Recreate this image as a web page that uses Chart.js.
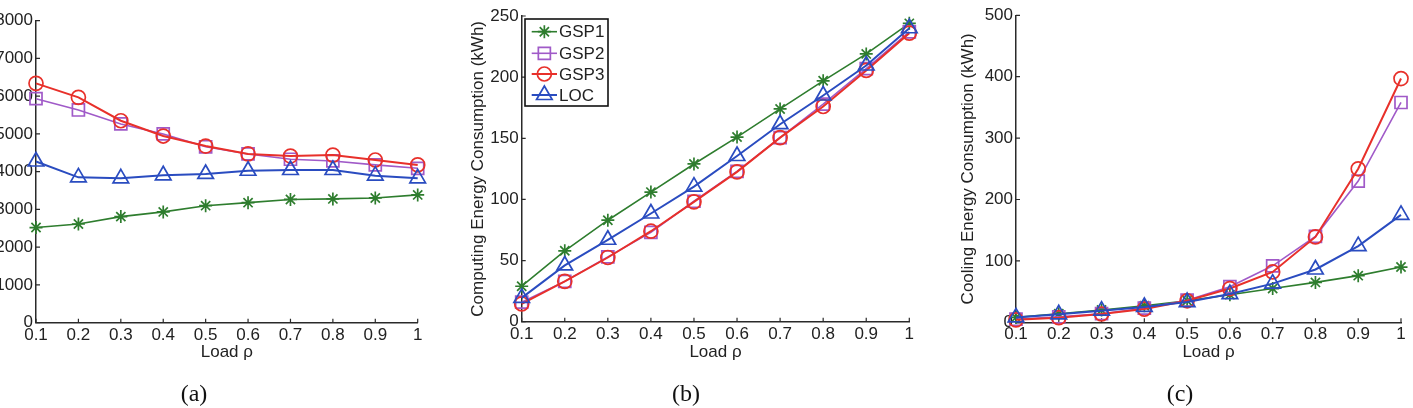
<!DOCTYPE html>
<html>
<head>
<meta charset="utf-8">
<script src="https://cdn.jsdelivr.net/npm/chart.js@4.4.1/dist/chart.umd.min.js"></script>
<style>
  html, body { margin: 0; padding: 0; background: #fff; }
  body { width: 1413px; height: 408px; position: relative; overflow: hidden; }
  canvas { position: absolute; top: 0; }
  .cap { position: absolute; font-family: "Liberation Serif", "DejaVu Serif", serif; font-size: 24px; color: #111;
         transform: translate(-50%, -50%); white-space: nowrap; }
</style>
</head>
<body>
<canvas id="ca" width="470" height="408" style="left:0px;width:470px;height:408px"></canvas>
<canvas id="cb" width="470" height="408" style="left:470px;width:470px;height:408px"></canvas>
<canvas id="cc" width="473" height="408" style="left:940px;width:473px;height:408px"></canvas>
<div class="cap" style="left:194px;top:393px">(a)</div>
<div class="cap" style="left:686px;top:393px">(b)</div>
<div class="cap" style="left:1180px;top:393px">(c)</div>
<script>
// ---- data ----
const loads = ['0.1', '0.2', '0.3', '0.4', '0.5', '0.6', '0.7', '0.8', '0.9', '1'];
const seriesNames = ['GSP1', 'GSP2', 'GSP3', 'LOC'];

// (a)
const aGSP1 = [2520, 2615, 2810, 2935, 3100, 3180, 3265, 3280, 3305, 3385];
const aGSP2 = [5935, 5635, 5265, 5000, 4660, 4470, 4330, 4285, 4180, 4090];
const aGSP3 = [6340, 5970, 5350, 4945, 4680, 4470, 4415, 4440, 4310, 4180];
const aLOC  = [4270, 3850, 3825, 3905, 3940, 4025, 4045, 4045, 3895, 3825];

// (b) computing energy (kWh)
const bGSP1 = [29, 58, 83, 106, 129, 151, 174, 197, 219, 244];
const bGSP2 = [16, 33, 53, 73, 98.5, 123, 150.5, 178, 207, 237];
const bGSP3 = [14.5, 33, 52.5, 74, 98, 122.5, 150.5, 176, 205.5, 236];
const bLOC  = [19.5, 46, 67, 88.5, 110.5, 135.5, 161.5, 185, 209.5, 240];

// (c) cooling energy (kWh)
const cGSP1 = [8, 14, 20, 27, 35, 45, 55, 65, 76, 90];
const cGSP2 = [5, 9, 14, 23, 36, 58, 92, 140, 230, 358];
const cGSP3 = [4, 7.5, 13.5, 21.5, 35, 55, 82, 139, 250, 397];
const cLOC  = [8, 13, 19, 25, 33, 46, 63, 86, 124, 175];

// ---- styles ----
const FONT = '"Liberation Sans", Arial, Helvetica, sans-serif';
const FS = 17;
const TXT = '#222';
const AXIS = '#2a2a2a';
const styles = [
  { color: '#2e7d2e', pointStyle: 'star',     radius: 6.5, lw: 1.6, order: 4 },
  { color: '#a05ac8', pointStyle: 'rect',     radius: 8.5, lw: 1.6, order: 3 },
  { color: '#e8302a', pointStyle: 'circle',   radius: 7,   lw: 2,   order: 2 },
  { color: '#2a4cc0', pointStyle: 'triangle', radius: 9,   lw: 2,   order: 1 }
];

function makeDatasets(arrs) {
  return arrs.map((d, i) => ({
    label: seriesNames[i],
    data: d,
    borderColor: styles[i].color,
    backgroundColor: styles[i].color,
    borderWidth: styles[i].lw,
    pointStyle: styles[i].pointStyle,
    pointRadius: styles[i].radius,
    pointHoverRadius: styles[i].radius,
    pointBorderColor: styles[i].color,
    pointBackgroundColor: 'rgba(0,0,0,0)',
    pointBorderWidth: 1.7,
    tension: 0,
    clip: false,
    order: styles[i].order
  }));
}

const inwardTicks = {
  id: 'inwardTicks',
  beforeDatasetsDraw(chart) {
    const ctx = chart.ctx;
    const xs = chart.scales.x, ys = chart.scales.y;
    const a = chart.chartArea;
    ctx.save();
    ctx.strokeStyle = AXIS;
    ctx.lineWidth = 1.2;
    ctx.beginPath();
    xs.ticks.forEach((t, i) => {
      const px = xs.getPixelForTick(i);
      ctx.moveTo(px, a.bottom);
      ctx.lineTo(px, a.bottom - 4);
    });
    ys.ticks.forEach((t, i) => {
      const py = ys.getPixelForTick(i);
      ctx.moveTo(a.left, py);
      ctx.lineTo(a.left + 4, py);
    });
    ctx.stroke();
    ctx.restore();
  }
};

const boxLegend = {
  id: 'boxLegend',
  afterDatasetsDraw(chart, args, opts) {
    if (!opts || !opts.show) return;
    const ctx = chart.ctx;
    const { x, y, w, h, rowY, lineX0, lineX1, textX } = opts;
    ctx.save();
    ctx.fillStyle = '#fff';
    ctx.fillRect(x, y, w, h);
    ctx.strokeStyle = '#111';
    ctx.lineWidth = 1.6;
    ctx.strokeRect(x, y, w, h);
    chart.data.datasets.forEach((ds, i) => {
      const yy = rowY[i];
      ctx.strokeStyle = ds.borderColor;
      ctx.lineWidth = ds.borderWidth;
      ctx.beginPath();
      ctx.moveTo(lineX0, yy);
      ctx.lineTo(lineX1, yy);
      ctx.stroke();
      ctx.fillStyle = 'rgba(0,0,0,0)';
      ctx.lineWidth = ds.pointBorderWidth;
      Chart.helpers.drawPoint(ctx, {
        pointStyle: ds.pointStyle, radius: ds.pointRadius, rotation: 0, borderWidth: ds.pointBorderWidth
      }, (lineX0 + lineX1) / 2, yy);
      ctx.fillStyle = TXT;
      ctx.font = FS + 'px ' + FONT;
      ctx.textBaseline = 'middle';
      ctx.textAlign = 'left';
      ctx.fillText(ds.label, textX, yy + 1);
    });
    ctx.restore();
  }
};

function makeChart(id, arrs, cfg) {
  return new Chart(document.getElementById(id), {
    type: 'line',
    data: { labels: loads, datasets: makeDatasets(arrs) },
    plugins: [inwardTicks, boxLegend],
    options: {
      responsive: false,
      devicePixelRatio: 1,
      animation: false,
      events: [],
      layout: { padding: { left: cfg.padLeft, top: cfg.padTop, right: cfg.padRight, bottom: cfg.padBottom } },
      plugins: {
        legend: { display: false },
        tooltip: { enabled: false },
        boxLegend: cfg.legend || { show: false }
      },
      scales: {
        x: {
          type: 'category',
          offset: false,
          grid: { display: true, drawOnChartArea: false, drawTicks: false, color: AXIS },
          border: { display: true, color: AXIS, width: 1.5 },
          ticks: { color: TXT, font: { family: FONT, size: FS }, padding: 2, maxRotation: 0, autoSkip: false },
          title: { display: true, text: 'Load \u03C1', color: TXT, font: { family: FONT, size: FS, lineHeight: 1 }, padding: { top: 0, bottom: 0 } },
          afterFit: s => { s.height = cfg.xHeight; }
        },
        y: {
          min: cfg.yMin, max: cfg.yMax,
          grid: { display: true, drawOnChartArea: false, drawTicks: false, color: AXIS },
          border: { display: true, color: AXIS, width: 1.5 },
          ticks: { stepSize: cfg.yStep, color: TXT, font: { family: FONT, size: FS }, padding: 3,
                   callback: v => String(v) },
          title: { display: !!cfg.yTitle, text: cfg.yTitle || '', color: TXT, font: { family: FONT, size: FS, lineHeight: 1 }, padding: { top: 0, bottom: 0 } },
          afterFit: s => { s.width = cfg.yWidth; }
        }
      }
    }
  });
}

makeChart('ca', [aGSP1, aGSP2, aGSP3, aLOC], {
  padLeft: 0, padTop: 20.7, padRight: 52.3, padBottom: 47.5,
  xHeight: 37.8, yWidth: 36, yMin: 0, yMax: 8000, yStep: 1000, yTitle: null
});

makeChart('cb', [bGSP1, bGSP2, bGSP3, bLOC], {
  padLeft: 0, padTop: 16, padRight: 30.7, padBottom: 47.5,
  xHeight: 38.8, yWidth: 51.7, yMin: 0, yMax: 250, yStep: 50,
  yTitle: 'Computing Energy Consumption (kWh)',
  legend: { show: true, x: 55, y: 19, w: 83, h: 87, rowY: [31.7, 53.3, 74, 95], lineX0: 61.7, lineX1: 87, textX: 89 }
});

makeChart('cc', [cGSP1, cGSP2, cGSP3, cLOC], {
  padLeft: 20, padTop: 15.3, padRight: 12, padBottom: 47.5,
  xHeight: 38.2, yWidth: 56, yMin: 0, yMax: 500, yStep: 100,
  yTitle: 'Cooling Energy Consumption (kWh)'
});
</script>
</body>
</html>
